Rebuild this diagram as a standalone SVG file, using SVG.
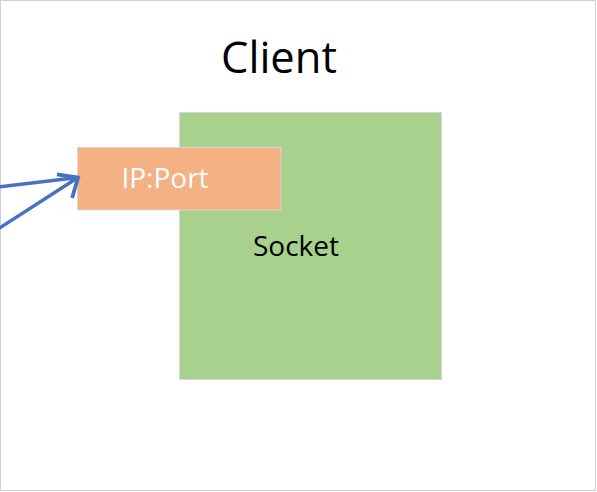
<svg xmlns="http://www.w3.org/2000/svg" width="597" height="492" viewBox="0 0 597 492">
  <style>
    .lbl { font-family: "Open Sans", "Noto Sans", sans-serif; }
    .edge { fill: none; stroke: #4472C4; stroke-width: 3.5; }
  </style>
  <defs>
    <marker id="open-arrow" markerUnits="userSpaceOnUse" viewBox="-22 -18 26 36" refX="0" refY="0" markerWidth="26" markerHeight="36" orient="auto">
      <path d="M-16,-14 L0,0 L-16,14" fill="none" stroke="#4472C4" stroke-width="3.8" stroke-linejoin="miter"/>
    </marker>
  </defs>
  <rect x="0" y="0" width="597" height="492" fill="#ffffff"/>
  <rect x="0.5" y="0.5" width="595" height="490" fill="none" stroke="#d0d0d0" stroke-width="1"/>

  <g id="title">
    <text class="lbl" x="279" y="73" font-size="43.5" text-anchor="middle" fill="#000">Client</text>
  </g>

  <g id="socket">
    <rect x="179.5" y="112.5" width="262" height="267" fill="#A9D18E" stroke="#d6d6d6" stroke-width="1"/>
    <text class="lbl" x="296" y="256" font-size="28" text-anchor="middle" fill="#000">Socket</text>
  </g>

  <g id="ipport">
    <rect x="77.5" y="147.5" width="203.5" height="62.5" fill="#F4B183" stroke="#d6d6d6" stroke-width="1"/>
    <text class="lbl" x="165" y="188" font-size="28" text-anchor="middle" fill="#ffffff">IP:Port</text>
  </g>

  <g id="connectors">
    <line class="edge" x1="-2" y1="187" x2="78" y2="177.5"/>
    <line class="edge" x1="-2" y1="229" x2="78" y2="177.5" marker-end="url(#open-arrow)"/>
  </g>
</svg>
